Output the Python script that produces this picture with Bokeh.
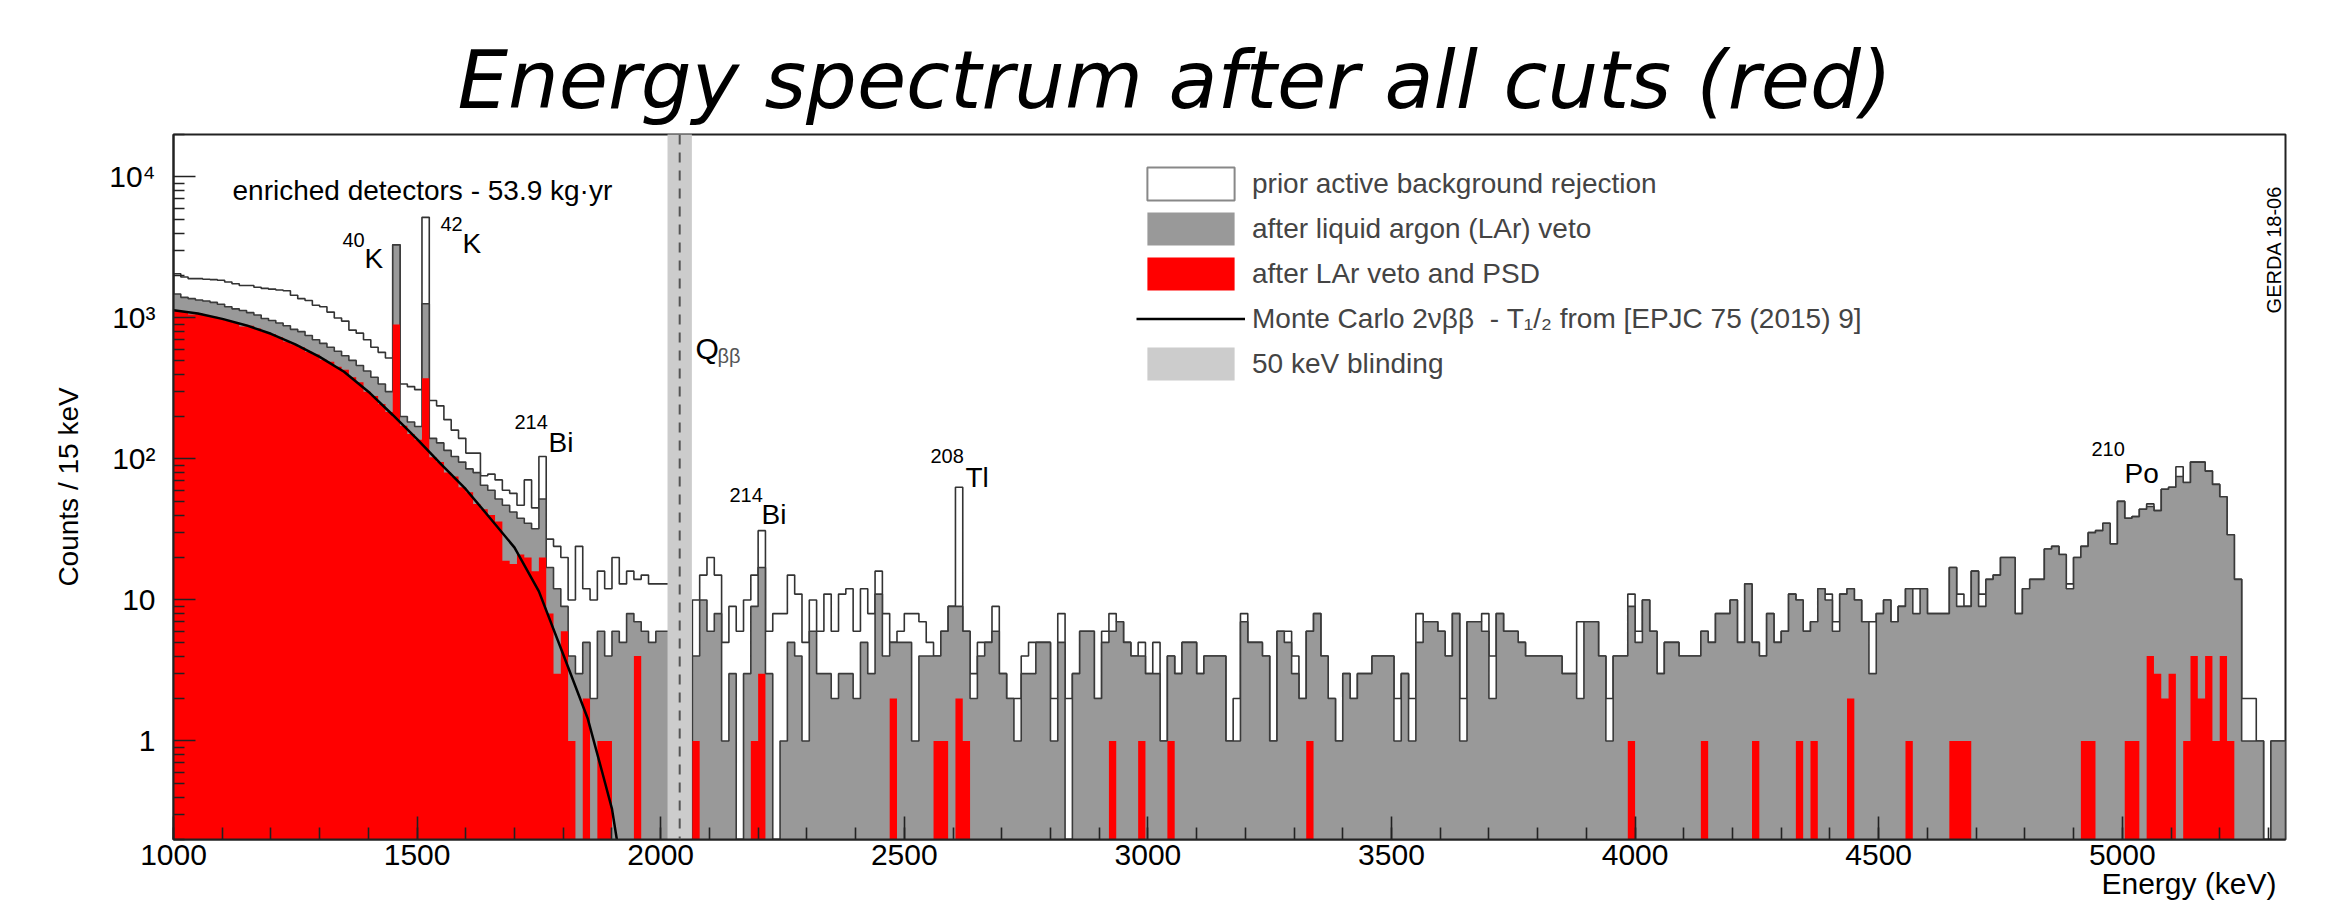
import numpy as np
from bokeh.plotting import figure
from bokeh.models import Range1d, FixedTicker, Label, Legend, LegendItem, Span, Title
from bokeh.embed import file_html
from bokeh.resources import INLINE

# ---------------- data ----------------
E_MIN = 1000
BIN_WIDTH = 15

prior_counts = [
    2060, 1950, 1900, 1900, 1880, 1870, 1850, 1800, 1750, 1700,
    1700, 1650, 1620, 1600, 1580, 1560, 1450, 1370, 1330, 1230,
    1200, 1100, 1000, 950, 820, 780, 700, 620, 570, 520,
    3300, 340, 326, 310, 5170, 260, 238, 190, 160, 140,
    110, 110, 76, 78, 71, 60, 57, 47, 71, 45,
    104, 27, 24, 20, 10, 24, 12, 10, 16, 12,
    20, 13, 16, 14, 15, 13, 13, 13, 0, 0,
    0, 10, 15, 20, 15, 5, 9, 6, 10, 15,
    31, 6, 8, 8, 15, 11, 5, 10, 6, 11,
    6, 11, 12, 6, 12, 8, 16, 8, 5, 6,
    8, 8, 7, 5, 4, 6, 9, 63, 6, 3,
    5, 5, 9, 3, 2, 2, 4, 5, 5, 5,
    2, 8, 2, 3, 6, 6, 2, 6, 8, 7,
    5, 4, 5, 3, 5, 1, 4, 3, 5, 5,
    3, 4, 4, 4, 1, 2, 8, 5, 5, 4,
    1, 6, 6, 4, 2, 6, 8, 4, 2, 1,
    3, 2, 3, 3, 4, 4, 4, 2, 3, 2,
    8, 7, 7, 6, 4, 8, 2, 7, 7, 8,
    4, 8, 6, 6, 5, 4, 4, 4, 4, 4,
    3, 3, 7, 7, 7, 4, 2, 4, 4, 11,
    6, 10, 6, 3, 5, 5, 4, 4, 4, 6,
    5, 8, 8, 10, 5, 13, 5, 4, 8, 5,
    6, 11, 10, 6, 7, 12, 11, 7, 11, 12,
    10, 7, 7, 8, 10, 7, 9, 12, 12, 12,
    8, 8, 8, 17, 11, 9, 16, 11, 14, 15,
    20, 20, 8, 12, 14, 14, 23, 24, 21, 13,
    20, 24, 30, 31, 35, 25, 50, 38, 39, 44,
    48, 43, 61, 63, 88, 68, 95, 95, 82, 66,
    54, 29, 14, 2, 2, 1, 0, 1, 1,
]

lar_counts = [
    1480, 1400, 1370, 1340, 1320, 1290, 1250, 1200, 1160, 1130,
    1090, 1050, 990, 960, 920, 880, 830, 800, 750, 700,
    660, 620, 580, 540, 500, 460, 420, 380, 340, 300,
    3300, 200, 183, 170, 1260, 140, 130, 115, 104, 95,
    85, 80, 65, 60, 52, 47, 42, 38, 35, 32,
    52, 17, 12, 9, 4, 3, 5, 2, 6, 4,
    6, 5, 8, 7, 6, 5, 6, 6, 0, 0,
    0, 4, 10, 6, 8, 1, 3, 0, 3, 9,
    17, 3, 0, 1, 5, 4, 1, 6, 3, 3,
    2, 3, 3, 2, 5, 3, 11, 4, 5, 5,
    5, 1, 4, 4, 4, 6, 9, 9, 6, 2,
    4, 5, 6, 3, 2, 1, 3, 3, 5, 5,
    1, 5, 0, 3, 6, 6, 2, 5, 6, 7,
    5, 4, 4, 3, 3, 1, 4, 3, 5, 5,
    3, 4, 4, 4, 1, 1, 7, 5, 5, 4,
    1, 6, 5, 3, 2, 6, 8, 4, 2, 1,
    3, 2, 3, 3, 4, 4, 4, 1, 3, 1,
    5, 7, 7, 6, 4, 8, 1, 7, 7, 6,
    2, 8, 6, 6, 5, 4, 4, 4, 4, 4,
    3, 3, 2, 7, 7, 4, 1, 4, 4, 9,
    5, 10, 6, 3, 5, 5, 4, 4, 4, 6,
    5, 8, 8, 10, 5, 13, 5, 4, 8, 5,
    6, 11, 10, 6, 7, 12, 10, 6, 11, 12,
    10, 7, 3, 8, 10, 7, 9, 12, 8, 12,
    8, 8, 8, 17, 9, 9, 16, 9, 14, 15,
    20, 20, 8, 12, 14, 14, 23, 24, 21, 12,
    20, 24, 30, 31, 35, 25, 50, 38, 39, 44,
    46, 43, 61, 63, 75, 68, 95, 95, 82, 66,
    54, 29, 14, 1, 1, 1, 0, 1, 1,
]

psd_counts = [
    1130, 1110, 1060, 1075, 1040, 1020, 985, 955, 925, 870,
    880, 840, 795, 770, 730, 680, 650, 620, 575, 550,
    505, 490, 450, 430, 380, 350, 300, 280, 245, 215,
    900, 172, 150, 137, 373, 103, 95, 80, 75, 63,
    58, 48, 44, 40, 36, 19, 18, 21, 20, 16,
    20, 8, 3, 6, 1, 0, 2, 0, 1, 1,
    0, 0, 0, 4, 0, 0, 0, 0, 0, 0,
    0, 1, 0, 0, 0, 0, 0, 0, 0, 1,
    3, 0, 0, 0, 0, 0, 0, 0, 0, 0,
    0, 0, 0, 0, 0, 0, 0, 0, 2, 0,
    0, 0, 0, 0, 1, 1, 0, 2, 1, 0,
    0, 0, 0, 0, 0, 0, 0, 0, 0, 0,
    0, 0, 0, 0, 0, 0, 0, 0, 1, 0,
    0, 0, 1, 0, 0, 0, 1, 0, 0, 0,
    0, 0, 0, 0, 0, 0, 0, 0, 0, 0,
    0, 0, 0, 0, 0, 1, 0, 0, 0, 0,
    0, 0, 0, 0, 0, 0, 0, 0, 0, 0,
    0, 0, 0, 0, 0, 0, 0, 0, 0, 0,
    0, 0, 0, 0, 0, 0, 0, 0, 0, 0,
    0, 0, 0, 0, 0, 0, 0, 0, 0, 1,
    0, 0, 0, 0, 0, 0, 0, 0, 0, 1,
    0, 0, 0, 0, 0, 0, 1, 0, 0, 0,
    0, 0, 1, 0, 1, 0, 0, 0, 0, 2,
    0, 0, 0, 0, 0, 0, 0, 1, 0, 0,
    0, 0, 0, 1, 1, 1, 0, 0, 0, 0,
    0, 0, 0, 0, 0, 0, 0, 0, 0, 0,
    0, 1, 1, 0, 0, 0, 0, 1, 1, 0,
    4, 3, 2, 3, 0, 1, 4, 2, 4, 1,
    4, 1, 0, 0, 0, 0, 0, 0, 0,
]

mc_energy = [1000, 1050, 1100, 1150, 1200, 1250, 1300, 1350, 1400, 1450,
             1500, 1550, 1600, 1650, 1700, 1750, 1800, 1850, 1880, 1900, 1910]
mc_counts = [1135, 1075, 985, 885, 772, 650, 530, 415, 300, 205,
             138, 91, 61, 38, 23.5, 11.5, 4.1, 1.45, 0.6, 0.33, 0.2]

Q_BB = 2039
BLIND_LO, BLIND_HI = 2014, 2064

x_ticks = [1000, 1500, 2000, 2500, 3000, 3500, 4000, 4500, 5000]
y_ticks = [1, 10, 100, 1000, 10000]
y_tick_labels = ["1", "10", "10\u00b2", "10\u00b3", "10\u2074"]

# ---------------- geometry ----------------
W, H = 2330, 909
FL, FR, FT, FB = 173, 2285, 134, 839      # frame edges in canvas pixels
FONT = "Liberation Sans"

n_bins = len(prior_counts)
edges = E_MIN + BIN_WIDTH * np.arange(n_bins + 1)
FLOOR = 1e-3

p = figure(width=W, height=H,
           x_range=Range1d(E_MIN, E_MIN + BIN_WIDTH * n_bins),
           y_range=Range1d(0.2, 20000), y_axis_type="log",
           output_backend="svg", toolbar_location=None,
           min_border_left=FL, min_border_right=W - FR,
           min_border_top=FT, min_border_bottom=H - FB,
           title="Energy spectrum after all cuts (red)")
p.background_fill_color = "white"
p.border_fill_color = "white"
p.outline_line_color = "#222222"
p.outline_line_width = 2
p.xgrid.visible = False
p.ygrid.visible = False

p.title.text_font = "DejaVu Sans"
p.title.text_font_style = "italic"
p.title.text_font_size = "80px"
p.title.text_color = "black"
p.title.align = "left"
p.title.offset = 284
p.title.standoff = 16


def step_path(counts):
    xs, ys = [edges[0]], [FLOOR]
    for i, c in enumerate(counts):
        v = c if c > 0 else FLOOR
        xs += [edges[i], edges[i + 1]]
        ys += [v, v]
    xs.append(edges[-1])
    ys.append(FLOOR)
    return xs, ys


# prior active background rejection (outline only)
px, py = step_path(prior_counts)
p.line(px, py, line_color="#333333", line_width=1.6)

# after LAr veto (grey filled area + outline)
gx, gy = step_path(lar_counts)
gray_r = p.patch(gx, gy, fill_color="#999999", line_color=None)
p.line(gx, gy, line_color="#3a3a3a", line_width=1.6)

# after LAr veto and PSD (red filled area)
rx, ry = step_path(psd_counts)
red_r = p.patch(rx, ry, fill_color="#ff0000", line_color=None)

# Monte Carlo 2nbb
mc_r = p.line(mc_energy, mc_counts, line_color="black", line_width=2.5)

# blinding window
band_r = p.quad(left=[BLIND_LO], right=[BLIND_HI], bottom=[FLOOR], top=[1e6],
                fill_color="#cccccc", line_color=None)
p.add_layout(Span(location=Q_BB, dimension="height", line_color="#555555",
                  line_dash="10 8", line_width=2))

# legend swatch for the hollow histogram (kept outside the visible x range)
prior_box = p.quad(left=[0], right=[1], top=[2], bottom=[1], fill_color="white",
                   line_color="#888888", line_width=2)

legend = Legend(items=[
    LegendItem(label="prior active background rejection", renderers=[prior_box]),
    LegendItem(label="after liquid argon (LAr) veto", renderers=[gray_r]),
    LegendItem(label="after LAr veto and PSD", renderers=[red_r]),
    LegendItem(label="Monte Carlo 2\u03bd\u03b2\u03b2  - T\u2081/\u2082 from [EPJC 75 (2015) 9]",
               renderers=[mc_r]),
    LegendItem(label="50 keV blinding", renderers=[band_r]),
], location=(963, 455), glyph_width=109, glyph_height=41, spacing=4,
    label_standoff=7, label_text_font=FONT, label_text_font_size="28px",
    padding=0, margin=0, border_line_alpha=0, background_fill_alpha=0)
p.add_layout(legend)

# ---------------- axes ----------------
p.xaxis.ticker = FixedTicker(ticks=x_ticks, minor_ticks=list(range(1000, 5400, 100)))
minor_y = [m * 10.0 ** d for d in range(-1, 5) for m in range(2, 10)]
p.yaxis.ticker = FixedTicker(ticks=y_ticks, minor_ticks=minor_y)
p.yaxis.major_label_overrides = {t: l for t, l in zip(y_ticks, y_tick_labels)}

for ax in (p.xaxis, p.yaxis):
    ax.axis_line_color = "#222222"
    ax.axis_line_width = 2
    ax.major_tick_line_color = "#222222"
    ax.minor_tick_line_color = "#222222"
    ax.major_tick_line_width = 1.6
    ax.minor_tick_line_width = 1.6
    ax.major_tick_out = 0
    ax.minor_tick_out = 0
    ax.major_label_text_font = FONT
    ax.major_label_text_font_size = "30px"
    ax.major_label_text_color = "black"

p.xaxis.major_tick_in = 23
p.xaxis.minor_tick_in = 12
p.xaxis.major_label_standoff = 5
p.yaxis.major_tick_in = 22
p.yaxis.minor_tick_in = 11
p.yaxis.major_label_standoff = 18
p.yaxis.axis_label = "Counts / 15 keV"
p.yaxis.axis_label_text_font = FONT
p.yaxis.axis_label_text_font_size = "28px"
p.yaxis.axis_label_text_font_style = "normal"
p.yaxis.axis_label_text_color = "black"
p.yaxis.axis_label_standoff = 22

# x axis title: right-aligned title placed below the axis
x_title = Title(text="Energy (keV)", align="right", offset=9, vertical_align="middle",
                standoff=-4, text_font=FONT, text_font_size="30px",
                text_font_style="normal", text_color="black")
p.add_layout(x_title, "below")


# ---------------- texts ----------------
def lab(text, x, y, size, align="left", baseline="alphabetic", angle=0.0,
        color="black", style="normal"):
    p.add_layout(Label(x=x - FL, y=FB - y, x_units="screen", y_units="screen",
                       text=text, text_font=FONT, text_font_size=f"{size}px",
                       text_align=align, text_baseline=baseline, angle=angle,
                       text_color=color, text_font_style=style))


lab("enriched detectors - 53.9 kg\u00b7yr", 232, 190, 28)
lab("40", 342, 232, 20, baseline="top")
lab("K", 364, 258, 28)
lab("42", 440, 216, 20, baseline="top")
lab("K", 462, 243, 28)
lab("214", 514, 414, 20, baseline="top")
lab("Bi", 548, 442, 28)
lab("Q", 695, 348, 30)
lab("\u03b2\u03b2", 717, 355, 20, color="#555555")
lab("214", 729, 487, 20, baseline="top")
lab("Bi", 761, 514, 28)
lab("208", 930, 448, 20, baseline="top")
lab("Tl", 965, 477, 28)
lab("210", 2091, 441, 20, baseline="top")
lab("Po", 2124, 473, 28)
lab("GERDA 18-06", 2273, 249, 20, align="center", baseline="middle", angle=np.pi / 2)

open("out.html", "w").write(file_html(p, INLINE))
